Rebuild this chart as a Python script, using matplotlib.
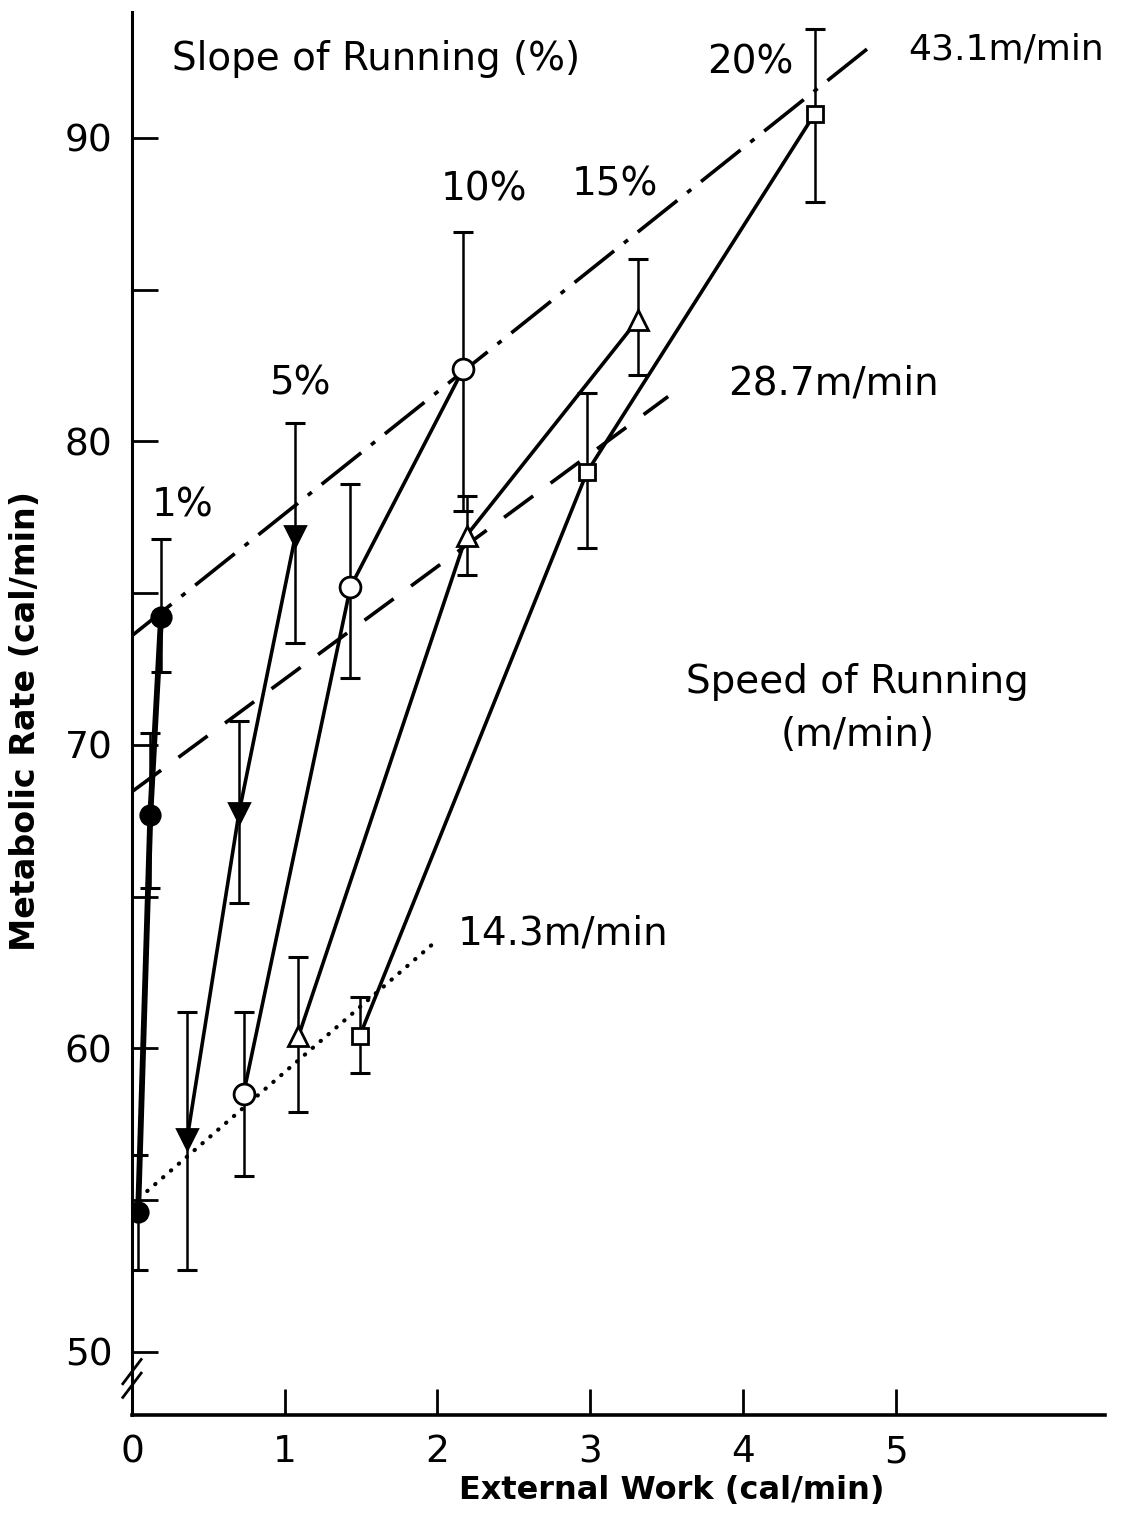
import matplotlib
matplotlib.use("Agg")
import matplotlib.pyplot as plt


# slope groups: external work (x), metabolic rate (y), error bar low/high
slope_labels = ["1%", "5%", "10%", "15%", "20%"]

work_1 = [0.04, 0.12, 0.19]
rate_1 = [54.6, 67.7, 74.2]
low_1 = [52.7, 65.3, 72.4]
high_1 = [56.5, 70.4, 76.8]

work_5 = [0.36, 0.70, 1.07]
rate_5 = [57.0, 67.75, 76.9]
low_5 = [52.7, 64.8, 73.35]
high_5 = [61.2, 70.8, 80.6]

work_10 = [0.73, 1.43, 2.17]
rate_10 = [58.5, 75.2, 82.4]
low_10 = [55.8, 72.2, 77.7]
high_10 = [61.2, 78.6, 86.9]

work_15 = [1.09, 2.19, 3.31]
rate_15 = [60.4, 76.9, 84.0]
low_15 = [57.9, 75.6, 82.2]
high_15 = [63.0, 78.2, 86.0]

work_20 = [1.49, 2.98, 4.47]
rate_20 = [60.4, 79.0, 90.8]
low_20 = [59.2, 76.5, 87.9]
high_20 = [61.7, 81.6, 93.6]

# speed lines (end points of each fitted line)
speed_43_x = [0.0, 4.82]
speed_43_y = [73.6, 92.96]
speed_29_x = [0.0, 3.51]
speed_29_y = [68.46, 81.48]
speed_14_x = [0.10, 1.96]
speed_14_y = [55.3, 63.4]

x_ticks = [0, 1, 2, 3, 4, 5]
y_ticks = [50, 60, 70, 80, 90]
y_minor = [55, 65, 75, 85]


def draw_group(ax, x, y, lo, hi, marker, face, ms, lw):
    yerr = [[v - l for v, l in zip(y, lo)], [h - v for v, h in zip(y, hi)]]
    ax.errorbar(x, y, yerr=yerr, fmt="none", ecolor="black", elinewidth=1.8,
                capsize=7, capthick=2.2, zorder=2)
    ax.plot(x, y, color="black", lw=lw, zorder=3)
    ax.plot(x, y, linestyle="none", marker=marker, ms=ms, mfc=face,
            mec="black", mew=2.0, zorder=4)


def main():
    plt.rcParams["font.family"] = "DejaVu Sans"

    fig = plt.figure(figsize=(11.32, 15.16), dpi=100)
    ax = fig.add_axes([132 / 1132, 1 - 1415 / 1516, 973 / 1132, 1403 / 1516])

    draw_group(ax, work_1, rate_1, low_1, high_1, "o", "black", 14, 4.2)
    draw_group(ax, work_5, rate_5, low_5, high_5, "v", "black", 15, 2.6)
    draw_group(ax, work_10, rate_10, low_10, high_10, "o", "white", 15, 2.6)
    draw_group(ax, work_15, rate_15, low_15, high_15, "^", "white", 14, 2.6)
    draw_group(ax, work_20, rate_20, low_20, high_20, "s", "white", 12, 2.6)

    ax.plot(speed_43_x, speed_43_y, color="black", lw=2.6,
            dashes=(14, 3.5, 1.4, 3.5), zorder=1)
    ax.plot(speed_29_x, speed_29_y, color="black", lw=2.6,
            dashes=(10, 6), zorder=1)
    ax.plot(speed_14_x, speed_14_y, color="black", lw=3.0,
            dashes=(0.1, 2.4), dash_capstyle="round", zorder=1)

    ax.set_xlim(0, 6.37)
    ax.set_ylim(47.92, 94.15)
    ax.spines["top"].set_visible(False)
    ax.spines["right"].set_visible(False)
    ax.spines["left"].set_linewidth(2.2)
    ax.spines["bottom"].set_linewidth(2.6)

    ax.set_xticks(x_ticks)
    ax.set_yticks(y_ticks)
    ax.set_yticks(y_minor, minor=True)
    ax.tick_params(axis="both", which="both", direction="in", length=19,
                   width=2.0, labelsize=27, pad=14)

    # axis break marks
    for off in [0.0, 0.45]:
        ax.plot([-0.06, 0.06], [48.5 + off, 49.3 + off], color="black",
                lw=2.0, clip_on=False)

    ax.set_xlabel("External Work (cal/min)", fontsize=23, fontweight="bold")
    ax.xaxis.set_label_coords(0.555, -0.043)
    ax.set_ylabel("Metabolic Rate (cal/min)", fontsize=24, fontweight="bold")
    ax.yaxis.set_label_coords(-0.092, 0.495)

    txt = dict(fontsize=28, va="center", ha="left")
    ax.text(0.26, 92.6, "Slope of Running (%)", **txt)
    label_pos = [(0.13, 77.9), (0.90, 81.9), (2.02, 88.3), (2.88, 88.45),
                 (3.765, 92.5)]
    for label, (lx, ly) in zip(slope_labels, label_pos):
        ax.text(lx, ly, label, **txt)

    ax.text(5.08, 92.9, "43.1m/min", fontsize=26, va="center", ha="left")
    ax.text(3.90, 81.9, "28.7m/min", **txt)
    ax.text(2.13, 63.8, "14.3m/min", **txt)
    ax.text(4.75, 71.2, "Speed of Running\n(m/min)", fontsize=28,
            ha="center", va="center", linespacing=1.5)

    fig.savefig("out.png", dpi=100)
    plt.close(fig)


if __name__ == "__main__":
    main()
